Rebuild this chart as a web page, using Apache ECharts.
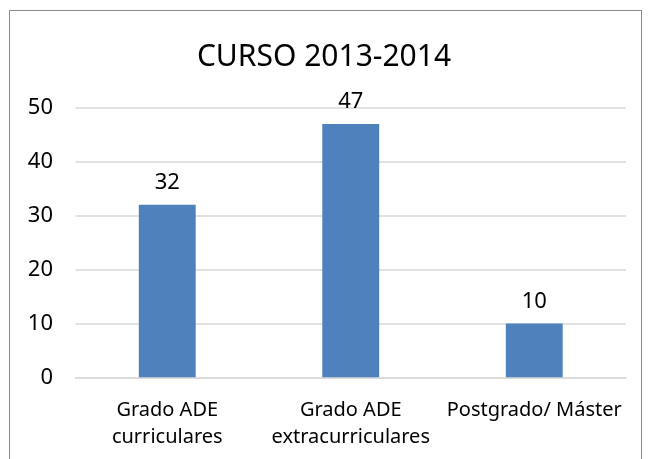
<!DOCTYPE html>
<html>
<head>
<meta charset="utf-8">
<script src="https://cdn.jsdelivr.net/npm/echarts@6/dist/echarts.min.js"></script>
<style>
  html, body { margin: 0; padding: 0; background: #fff; }
  #wrap { position: relative; width: 648px; height: 459px; overflow: hidden; }
  #frame {
    position: absolute; left: 9px; top: 10px; width: 633px; height: 470px;
    border: 1px solid #8c8c8c; box-sizing: border-box;
  }
  #chart { position: absolute; left: 0; top: 0; width: 648px; height: 459px; }
</style>
</head>
<body>
<div id="wrap">
  <div id="frame"></div>
  <div id="chart"></div>
</div>
<script>
// datos del gráfico
const categories = ['Grado ADE\ncurriculares', 'Grado ADE\nextracurriculares', 'Postgrado/ Máster']
const values = [32, 47, 10]
const yTicks = [0, 10, 20, 30, 40, 50]

const chart = echarts.init(document.getElementById('chart'))

const options = {
  animation: false,
  textStyle: { fontFamily: 'Noto Sans' },
  title: {
    text: 'CURSO 2013-2014',
    left: 'center',
    top: 37,
    textStyle: {
      fontFamily: 'Noto Sans',
      fontSize: 30,
      fontWeight: 'normal',
      color: '#000'
    }
  },
  grid: {
    left: 75.5,
    right: 22,
    top: 107.7,
    bottom: 81.7,
    containLabel: false
  },
  xAxis: {
    type: 'category',
    data: categories,
    axisTick: { show: false },
    axisLine: { lineStyle: { color: '#d9d9d9', width: 1.5 } },
    axisLabel: {
      color: '#000',
      fontSize: 20,
      lineHeight: 27,
      margin: 19,
      interval: 0
    }
  },
  yAxis: {
    type: 'value',
    min: yTicks[0],
    max: yTicks[yTicks.length - 1],
    interval: 10,
    axisLine: { show: false },
    axisTick: { show: false },
    axisLabel: {
      color: '#000',
      fontSize: 22,
      margin: 22.5
    },
    splitLine: { lineStyle: { color: '#d9d9d9', width: 1.5 } }
  },
  series: [
    {
      type: 'bar',
      data: values,
      barWidth: '31%',
      itemStyle: { color: '#4f81bd' },
      label: {
        show: true,
        position: 'top',
        distance: 11,
        color: '#000',
        fontSize: 22
      }
    }
  ]
}

chart.setOption(options)
</script>
</body>
</html>
